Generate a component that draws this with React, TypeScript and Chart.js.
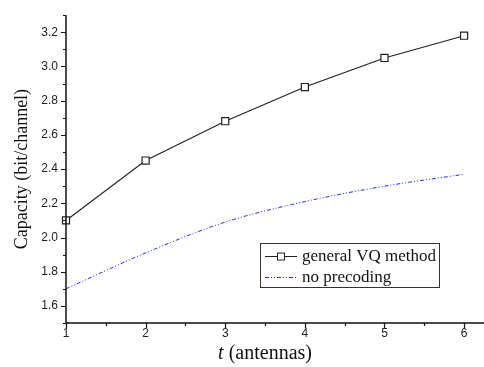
import React, { useEffect, useRef } from "react";
import { Chart, registerables } from "chart.js";

Chart.register(...registerables);

const antennas = [1, 2, 3, 4, 5, 6];
const generalVQ = [2.1, 2.45, 2.68, 2.88, 3.05, 3.18];
const noPrecoding = [1.7, 1.91, 2.09, 2.21, 2.3, 2.37];
const yTickLabels = [1.6, 1.8, 2.0, 2.2, 2.4, 2.6, 2.8, 3.0, 3.2];
const yMinorTicks = [1.5, 1.7, 1.9, 2.1, 2.3, 2.5, 2.7, 2.9, 3.1, 3.3];
const xTickLabels = [1, 2, 3, 4, 5, 6];
const xMinorTicks = [1.5, 2.5, 3.5, 4.5, 5.5];
const seriesNames = ["general VQ method", "no precoding"];

const SERIF = "'Liberation Serif', 'Times New Roman', serif";
const SANS = "'Liberation Sans', Arial, sans-serif";
const BLUE_DASH = [4, 2, 1, 2, 1, 2];

const axesPlugin = {
  id: "originAxes",
  afterDatasetsDraw(chart: any) {
    const ctx = chart.ctx;
    const x = chart.scales.x;
    const y = chart.scales.y;
    const area = chart.chartArea;
    ctx.save();
    ctx.strokeStyle = "#111";
    ctx.lineWidth = 1.5;
    ctx.beginPath();
    ctx.moveTo(area.left, area.top);
    ctx.lineTo(area.left, area.bottom);
    ctx.lineTo(chart.width, area.bottom);
    ctx.stroke();
    ctx.lineWidth = 1.2;
    ctx.beginPath();
    yTickLabels.forEach((v) => {
      const p = Math.round(y.getPixelForValue(v)) + 0.5;
      ctx.moveTo(area.left, p);
      ctx.lineTo(area.left - 5, p);
    });
    yMinorTicks.forEach((v) => {
      const p = Math.round(y.getPixelForValue(v)) + 0.5;
      ctx.moveTo(area.left, p);
      ctx.lineTo(area.left - 3, p);
    });
    xTickLabels.forEach((v) => {
      const p = Math.round(x.getPixelForValue(v)) + 0.5;
      ctx.moveTo(p, area.bottom);
      ctx.lineTo(p, area.bottom + 5);
    });
    xMinorTicks.forEach((v) => {
      const p = Math.round(x.getPixelForValue(v)) + 0.5;
      ctx.moveTo(p, area.bottom);
      ctx.lineTo(p, area.bottom + 3);
    });
    ctx.stroke();

    // axis titles
    ctx.fillStyle = "#111";
    ctx.textBaseline = "alphabetic";
    const cx = x.getPixelForValue(3.5);
    ctx.font = `italic 20px ${SERIF}`;
    const tW = ctx.measureText("t").width;
    ctx.font = `20px ${SERIF}`;
    const restText = " (antennas)";
    const rW = ctx.measureText(restText).width;
    const startX = cx - (tW + rW) / 2;
    ctx.font = `italic 20px ${SERIF}`;
    ctx.textAlign = "left";
    ctx.fillText("t", startX, 359);
    ctx.font = `20px ${SERIF}`;
    ctx.fillText(restText, startX + tW, 359);

    ctx.save();
    ctx.translate(27, (area.top + area.bottom) / 2);
    ctx.rotate(-Math.PI / 2);
    ctx.textAlign = "center";
    ctx.font = `18px ${SERIF}`;
    ctx.fillText("Capacity (bit/channel)", 0, 0);
    ctx.restore();

    // legend
    const lx = 260.5, ly = 243.5, lw = 179, lh = 44;
    ctx.fillStyle = "#fff";
    ctx.fillRect(lx, ly, lw, lh);
    ctx.strokeStyle = "#333";
    ctx.lineWidth = 1;
    ctx.strokeRect(lx, ly, lw, lh);
    const rows = [256, 277];
    ctx.strokeStyle = "#222";
    ctx.beginPath();
    ctx.moveTo(265, rows[0] + 0.5);
    ctx.lineTo(297, rows[0] + 0.5);
    ctx.stroke();
    ctx.fillStyle = "#fff";
    ctx.fillRect(277.5, rows[0] - 3, 7, 7);
    ctx.strokeRect(277.5, rows[0] - 3, 7, 7);
    ctx.strokeStyle = "rgb(40,40,255)";
    ctx.setLineDash(BLUE_DASH);
    ctx.beginPath();
    ctx.moveTo(265, rows[1] + 0.5);
    ctx.lineTo(297, rows[1] + 0.5);
    ctx.stroke();
    ctx.setLineDash([]);
    ctx.fillStyle = "#111";
    ctx.font = `17px ${SERIF}`;
    ctx.textAlign = "left";
    ctx.textBaseline = "middle";
    ctx.fillText(seriesNames[0], 302, rows[0] + 1);
    ctx.fillText(seriesNames[1], 302, rows[1] + 1);
    ctx.restore();
  },
};

export default function App() {
  const ref = useRef<HTMLCanvasElement | null>(null);
  useEffect(() => {
    document.body.style.margin = "0";
    if (!ref.current) return;
    const chart = new Chart(ref.current, {
      type: "line",
      data: {
        datasets: [
          {
            label: seriesNames[0],
            data: antennas.map((t, i) => ({ x: t, y: generalVQ[i] })),
            borderColor: "#222",
            borderWidth: 1.2,
            pointStyle: "rect",
            pointRadius: 5,
            pointBackgroundColor: "#fff",
            pointBorderColor: "#222",
            pointBorderWidth: 1.2,
            tension: 0,
            clip: false as any,
          },
          {
            label: seriesNames[1],
            data: antennas.map((t, i) => ({ x: t, y: noPrecoding[i] })),
            borderColor: "rgb(40,40,255)",
            borderWidth: 1,
            borderDash: BLUE_DASH,
            pointRadius: 0,
            tension: 0.3,
            cubicInterpolationMode: "monotone",
          },
        ],
      },
      options: {
        animation: false,
        responsive: false,
        maintainAspectRatio: false,
        layout: { autoPadding: false, padding: { top: 10, right: 0, left: 0, bottom: 0 } },
        plugins: { legend: { display: false }, tooltip: { enabled: false } },
        scales: {
          x: {
            type: "linear",
            min: 1,
            max: 6.25,
            grid: { display: false, drawTicks: false },
            border: { display: false },
            ticks: {
              padding: 3,
              color: "#222",
              font: { family: SANS, size: 12 },
              callback: (v: any) => String(v),
            },
            afterBuildTicks: (s: any) => {
              s.ticks = xTickLabels.map((v) => ({ value: v }));
            },
            afterFit: (s: any) => {
              s.height = 44;
              s.paddingRight = 0;
              s.paddingLeft = 0;
            },
          },
          y: {
            type: "linear",
            min: 1.5,
            max: 3.3,
            grid: { display: false, drawTicks: false },
            border: { display: false },
            ticks: {
              padding: 8,
              color: "#222",
              font: { family: SANS, size: 12 },
              callback: (v: any) => Number(v).toFixed(1),
            },
            afterBuildTicks: (s: any) => {
              s.ticks = yTickLabels.map((v) => ({ value: v }));
            },
            afterFit: (s: any) => {
              s.width = 66;
            },
          },
        },
      },
      plugins: [axesPlugin],
    });
    return () => chart.destroy();
  }, []);
  return (
    <div style={{ width: 484, height: 367, background: "#fff" }}>
      <canvas ref={ref} width={484} height={367} style={{ display: "block" }} />
    </div>
  );
}
